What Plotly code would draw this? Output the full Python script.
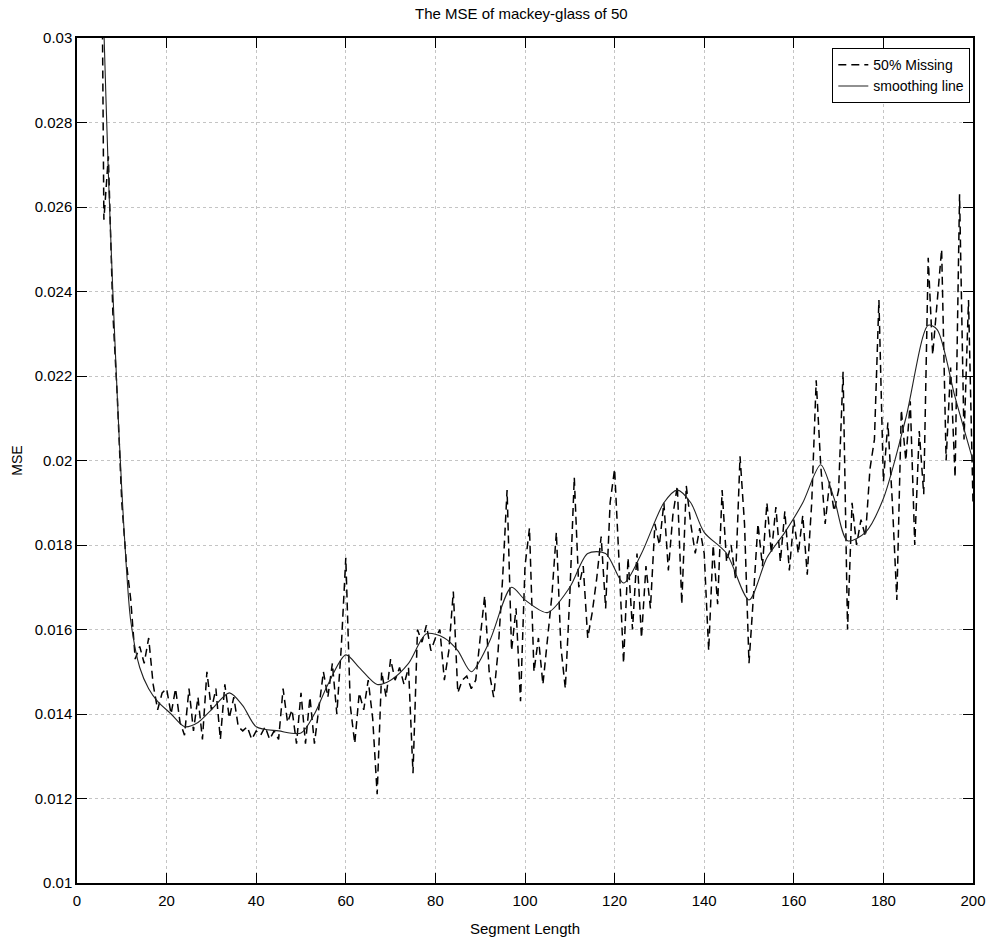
import plotly.graph_objects as go

# Segment lengths at which the MSE was evaluated
segment_length = list(range(5, 201))

# MSE per segment length with 50% of the samples missing
mse_missing = [
    0.0400, 0.0257, 0.0272, 0.0235, 0.0215, 0.0190, 0.0176, 0.0167, 0.0153, 0.0156,   # 5-14
    0.0152, 0.0158, 0.0147, 0.0141, 0.0145, 0.0146, 0.0140, 0.0146, 0.0138, 0.0135,   # 15-24
    0.0146, 0.0136, 0.0144, 0.0134, 0.0150, 0.0141, 0.0146, 0.0134, 0.0147, 0.0139,   # 25-34
    0.0144, 0.0137, 0.0136, 0.0137, 0.0134, 0.0136, 0.0135, 0.0137, 0.0134, 0.0136,   # 35-44
    0.0134, 0.0146, 0.0138, 0.0141, 0.0133, 0.0145, 0.0133, 0.0144, 0.0133, 0.0141,   # 45-54
    0.0150, 0.0144, 0.0152, 0.0140, 0.0156, 0.0177, 0.0142, 0.0133, 0.0145, 0.0141,   # 55-64
    0.0148, 0.0139, 0.0121, 0.0150, 0.0144, 0.0153, 0.0148, 0.0151, 0.0147, 0.0151,   # 65-74
    0.0126, 0.0160, 0.0157, 0.0161, 0.0155, 0.0158, 0.0160, 0.0148, 0.0155, 0.0169,   # 75-84
    0.0145, 0.0148, 0.0149, 0.0146, 0.0148, 0.0158, 0.0168, 0.0150, 0.0144, 0.0155,   # 85-94
    0.0172, 0.0193, 0.0155, 0.0165, 0.0143, 0.0175, 0.0184, 0.0150, 0.0158, 0.0147,   # 95-104
    0.0157, 0.0168, 0.0183, 0.0156, 0.0146, 0.0168, 0.0196, 0.0170, 0.0175, 0.0158,   # 105-114
    0.0164, 0.0172, 0.0182, 0.0165, 0.0190, 0.0198, 0.0176, 0.0152, 0.0177, 0.0160,   # 115-124
    0.0178, 0.0158, 0.0175, 0.0165, 0.0185, 0.0180, 0.0190, 0.0174, 0.0187, 0.0194,   # 125-134
    0.0166, 0.0194, 0.0185, 0.0178, 0.0184, 0.0178, 0.0155, 0.0180, 0.0166, 0.0193,   # 135-144
    0.0176, 0.0180, 0.0172, 0.0201, 0.0185, 0.0152, 0.0168, 0.0185, 0.0175, 0.0190,   # 145-154
    0.0178, 0.0189, 0.0176, 0.0188, 0.0174, 0.0186, 0.0178, 0.0187, 0.0173, 0.0190,   # 155-164
    0.0219, 0.0199, 0.0185, 0.0195, 0.0188, 0.0193, 0.0221, 0.0160, 0.0190, 0.0180,   # 165-174
    0.0186, 0.0182, 0.0198, 0.0205, 0.0238, 0.0195, 0.0209, 0.0190, 0.0167, 0.0212,   # 175-184
    0.0200, 0.0214, 0.0180, 0.0207, 0.0192, 0.0248, 0.0225, 0.0238, 0.0250, 0.0200,   # 185-194
    0.0222, 0.0196, 0.0263, 0.0205, 0.0238, 0.0190,                                   # 195-200
]

# Knots of the smoothed trend
smooth_x = [5, 6, 7, 8, 9, 10, 11, 12, 14, 16, 18, 21, 24, 27, 30, 34, 37, 40, 45, 50,
            53, 56, 60, 63, 67, 70, 74, 78, 82, 85, 88, 92, 97, 100, 105, 110, 114, 118,
            122, 126, 131, 134, 137, 140, 145, 150, 154, 158, 162, 166, 169, 172, 176,
            180, 185, 190, 192, 196, 200]
smooth_y = [0.0340, 0.0302, 0.0268, 0.0240, 0.0215, 0.0193, 0.0175, 0.0162, 0.0151, 0.0146,
            0.0143, 0.0140, 0.0137, 0.0138, 0.0141, 0.0145, 0.0142, 0.0137, 0.0136, 0.01355,
            0.0140, 0.0147, 0.0154, 0.0151, 0.0147, 0.0148, 0.0152, 0.0159, 0.0158, 0.0155,
            0.0150, 0.0157, 0.0170, 0.0167, 0.0164, 0.0170, 0.0178, 0.0178, 0.0171, 0.0178,
            0.0190, 0.0193, 0.0190, 0.0183, 0.0178, 0.0167, 0.0177, 0.0183, 0.0190, 0.0199,
            0.0191, 0.0181, 0.0183, 0.0191, 0.0210, 0.0232, 0.0231, 0.0215, 0.0200]

x_ticks = [0, 20, 40, 60, 80, 100, 120, 140, 160, 180, 200]
y_ticks = [0.01, 0.012, 0.014, 0.016, 0.018, 0.02, 0.022, 0.024, 0.026, 0.028, 0.03]
y_tick_text = ["0.01", "0.012", "0.014", "0.016", "0.018", "0.02",
               "0.022", "0.024", "0.026", "0.028", "0.03"]

FONT = "Liberation Sans, Arial, sans-serif"

fig = go.Figure()
fig.add_trace(go.Scatter(
    x=segment_length, y=mse_missing, mode="lines", name="50% Missing",
    line=dict(color="black", width=1.5, dash="8px,5px"),
))
fig.add_trace(go.Scatter(
    x=smooth_x, y=smooth_y, mode="lines", name="smoothing line",
    line=dict(color="#222222", width=1.1, shape="spline", smoothing=0.8),
))

axis_common = dict(
    showline=True, linecolor="black", linewidth=1.5, mirror="allticks",
    ticks="inside", ticklen=10, tickwidth=1.2, tickcolor="black",
    showgrid=True, gridcolor="#c4c4c4", griddash="dot", gridwidth=1,
    zeroline=False, automargin=False,
    tickfont=dict(family=FONT, size=15, color="black"),
)

fig.update_layout(
    width=993, height=943,
    margin=dict(l=77, r=20, t=38, b=60),
    paper_bgcolor="white", plot_bgcolor="white",
    title=dict(text="The MSE of mackey-glass of 50", x=0.525, xanchor="center",
               y=0.985, yanchor="middle",
               font=dict(family=FONT, size=15, color="black")),
    showlegend=True,
    legend=dict(x=0.997, y=0.988, xanchor="right", yanchor="top",
                bgcolor="white", bordercolor="black", borderwidth=1,
                font=dict(family=FONT, size=14, color="black"),
                tracegroupgap=0, itemwidth=30),
    xaxis=dict(range=[0, 200], tickvals=x_ticks, ticklabelstandoff=3,
               title=dict(text="Segment Length", standoff=16,
                          font=dict(family=FONT, size=15, color="black")),
               **axis_common),
    yaxis=dict(range=[0.01, 0.03], tickvals=y_ticks, ticktext=y_tick_text,
               title=dict(text="MSE", standoff=9,
                          font=dict(family=FONT, size=14, color="black")),
               **axis_common),
)

fig.write_html("out.html")
